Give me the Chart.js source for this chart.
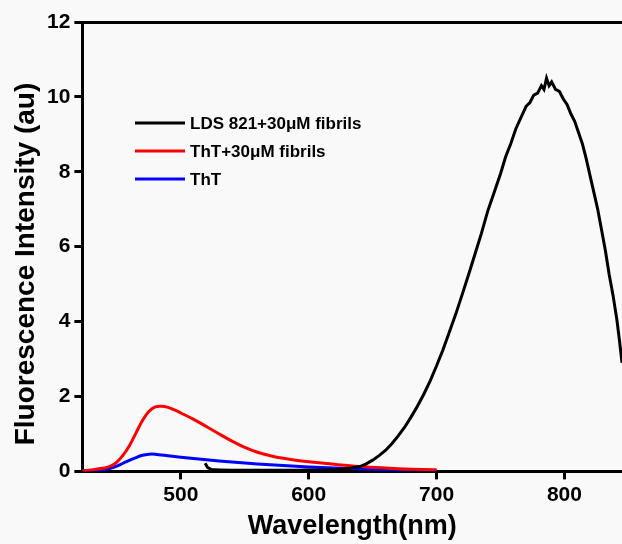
<!DOCTYPE html>
<html>
<head>
<meta charset="utf-8">
<script src="https://cdn.jsdelivr.net/npm/chart.js@4"></script>
<style>
    html, body { margin: 0; padding: 0; background: #f9f9f9; overflow: hidden; }
    canvas { display: block; }
</style>
</head>
<body>
<canvas id="spectraChart" width="622" height="544"></canvas>
<script>
const seriesLabels = ["LDS 821+30\u03bcM fibrils", "ThT+30\u03bcM fibrils", "ThT"];
const seriesColors = ["#000000", "#ff0000", "#0000ff"];

// LDS 821 + fibrils (black)
const ldsWave = [519, 521, 524, 530, 540, 550, 560, 570, 580, 590, 600, 610, 620, 630, 640, 645, 650, 655, 660, 665, 670, 675, 680, 685, 690, 695, 700, 705, 710, 715, 720, 725, 730, 735, 740, 745, 750, 754, 758, 762, 766, 770, 773, 776, 779, 782, 784, 786, 788, 790, 793, 796, 799, 802, 805, 808, 811, 814, 817, 820, 823, 826, 829, 832, 835, 838, 841, 843, 845];
const ldsValue = [0.22, 0.1, 0.05, 0.04, 0.03, 0.03, 0.03, 0.03, 0.03, 0.03, 0.04, 0.04, 0.05, 0.07, 0.13, 0.2, 0.3, 0.42, 0.56, 0.74, 0.95, 1.18, 1.45, 1.74, 2.06, 2.42, 2.82, 3.25, 3.72, 4.2, 4.72, 5.25, 5.8, 6.35, 6.95, 7.45, 7.95, 8.4, 8.75, 9.15, 9.45, 9.75, 9.85, 10.05, 10.1, 10.3, 10.2, 10.5, 10.3, 10.4, 10.2, 10.15, 9.95, 9.8, 9.55, 9.35, 9.05, 8.75, 8.35, 7.9, 7.45, 7.0, 6.45, 5.9, 5.25, 4.7, 4.05, 3.5, 2.9];

// ThT + fibrils (red)
const thtFibWave = [423, 430, 440, 445, 450, 455, 460, 465, 470, 475, 480, 485, 490, 495, 500, 510, 520, 530, 540, 550, 560, 570, 580, 590, 600, 620, 640, 660, 680, 700];
const thtFibValue = [0.02, 0.04, 0.09, 0.14, 0.25, 0.44, 0.7, 1.03, 1.36, 1.6, 1.72, 1.74, 1.71, 1.64, 1.56, 1.39, 1.2, 1.0, 0.81, 0.64, 0.51, 0.42, 0.35, 0.3, 0.26, 0.19, 0.13, 0.09, 0.06, 0.04];

// ThT alone (blue)
const thtWave = [423, 430, 440, 445, 450, 458, 465, 470, 475, 480, 490, 500, 520, 540, 560, 580, 600, 620, 640, 660, 680, 700];
const thtValue = [0.01, 0.02, 0.05, 0.08, 0.14, 0.27, 0.37, 0.43, 0.46, 0.46, 0.42, 0.38, 0.31, 0.25, 0.2, 0.16, 0.12, 0.09, 0.07, 0.05, 0.04, 0.03];

const xTicks = [500, 600, 700, 800];
const yTicks = [0, 2, 4, 6, 8, 10, 12];
const yTitle = 'Fluorescence Intensity (au)';

const FONT = "'Liberation Sans', Arial, sans-serif";

const toPoints = (xs, ys) => xs.map((x, i) => ({ x: x, y: ys[i] }));

// legend sits inside the plot, and the y title is offset from the axis centre like the original
const chartDecor = {
    id: 'chartDecor',
    afterDraw(chart) {
        const ctx = chart.ctx;
        ctx.save();
        ctx.font = `bold 17px ${FONT}`;
        ctx.textBaseline = 'middle';
        chart.data.datasets.forEach((ds, i) => {
            const y = 123 + i * 28;
            ctx.strokeStyle = ds.borderColor;
            ctx.lineWidth = 3;
            ctx.beginPath();
            ctx.moveTo(135, y);
            ctx.lineTo(185, y);
            ctx.stroke();
            ctx.fillStyle = '#000';
            ctx.fillText(ds.label, 190, y + 1);
        });

        ctx.translate(25, 264);
        ctx.rotate(-Math.PI / 2);
        ctx.font = `bold 28px ${FONT}`;
        ctx.textAlign = 'center';
        ctx.fillText(yTitle, 0, 1);
        ctx.restore();
    }
};

const datasets = [
    { label: seriesLabels[0], data: toPoints(ldsWave, ldsValue), borderColor: seriesColors[0], tension: 0 },
    { label: seriesLabels[1], data: toPoints(thtFibWave, thtFibValue), borderColor: seriesColors[1], tension: 0.4 },
    { label: seriesLabels[2], data: toPoints(thtWave, thtValue), borderColor: seriesColors[2], tension: 0.3 }
].map(d => ({ ...d, borderWidth: 3, pointRadius: 0, fill: false }));

new Chart(document.getElementById('spectraChart'), {
    type: 'line',
    data: { datasets: datasets },
    options: {
        responsive: false,
        animation: false,
        devicePixelRatio: 1,
        layout: { padding: { top: 22, right: 0, bottom: 0, left: 43 } },
        plugins: {
            legend: { display: false },
            tooltip: { enabled: false }
        },
        scales: {
            x: {
                type: 'linear',
                position: 'bottom',
                min: 423,
                max: 845,
                afterBuildTicks: axis => { axis.ticks = xTicks.map(v => ({ value: v })); },
                border: { color: '#000', width: 3 },
                grid: { drawOnChartArea: false, tickLength: 8, tickWidth: 3, tickColor: '#000' },
                ticks: { color: '#000', font: { family: FONT, size: 21, weight: 'bold' }, padding: 3 },
                title: {
                    display: true,
                    text: 'Wavelength(nm)',
                    color: '#000',
                    font: { family: FONT, size: 27, weight: 'bold' },
                    padding: { top: 0, bottom: 1 }
                }
            },
            xTop: {
                type: 'linear',
                position: 'top',
                ticks: { display: false },
                grid: { display: false, drawTicks: false },
                border: { display: true, color: '#000', width: 3 }
            },
            y: {
                min: 0,
                max: 12,
                afterBuildTicks: axis => { axis.ticks = yTicks.map(v => ({ value: v })); },
                border: { color: '#000', width: 3 },
                grid: { drawOnChartArea: false, tickLength: 8, tickWidth: 3, tickColor: '#000' },
                ticks: { color: '#000', font: { family: FONT, size: 21, weight: 'bold' }, padding: 4 }
            }
        }
    },
    plugins: [chartDecor]
});
</script>
</body>
</html>
